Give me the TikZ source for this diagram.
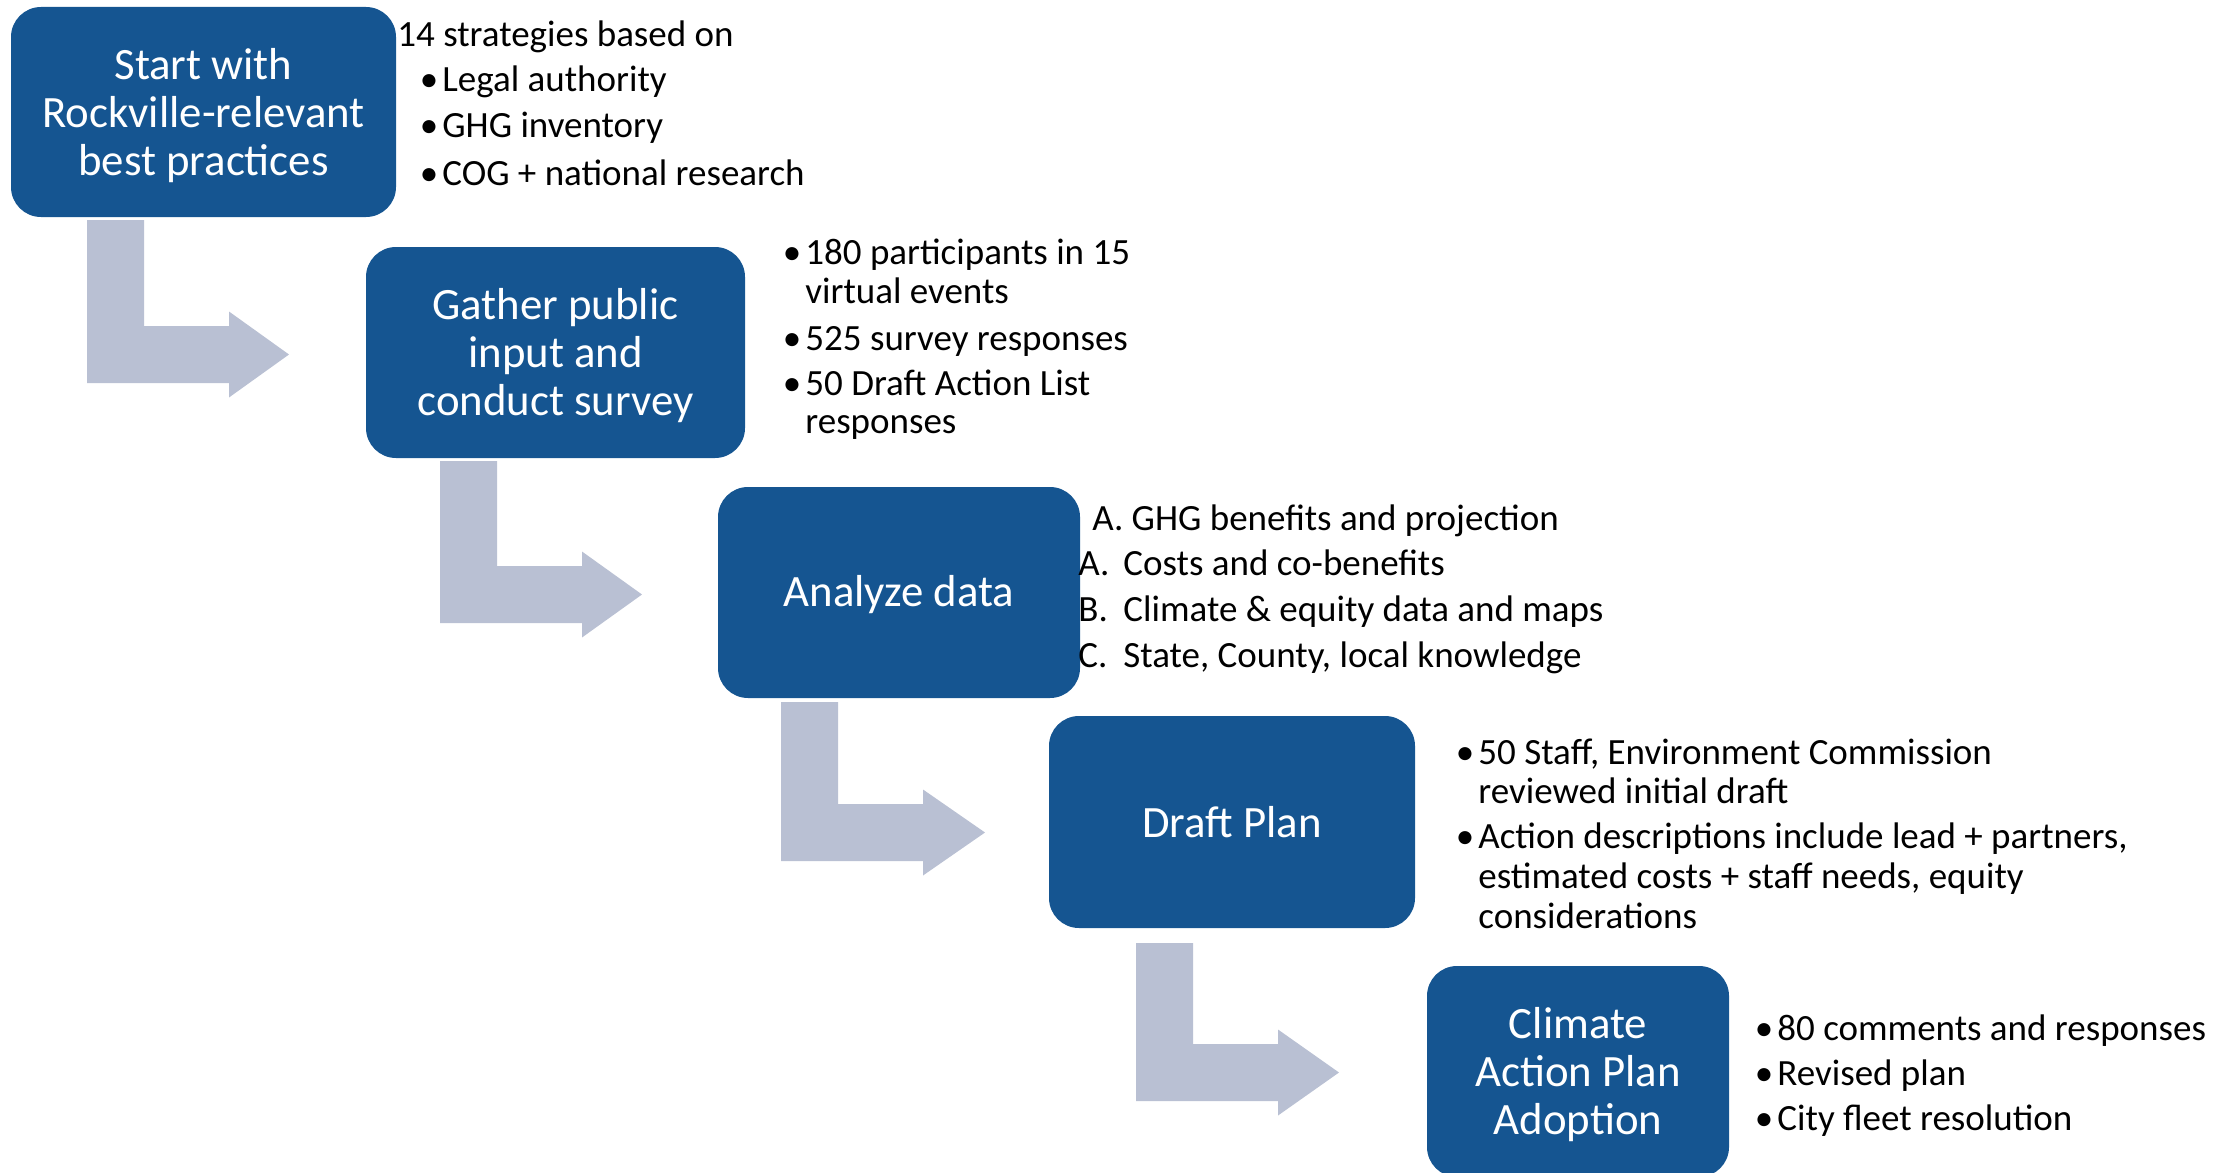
\documentclass[tikz,border=0pt]{standalone}
\usepackage{fontspec}
\setmainfont{Carlito}
\definecolor{boxblue}{RGB}{21,85,145}
\definecolor{arrowgray}{RGB}{185,192,211}
\tikzset{
  stepbox/.style={fill=boxblue, rounded corners=15pt, inner sep=0pt},
  steptext/.style={text=white, align=center, font=\fontsize{22.4}{24}\selectfont, inner sep=0pt},
  annot/.style={anchor=base west, inner sep=0pt, font=\fontsize{18.5}{20}\selectfont, text=black},
  bentarrow/.style={fill=arrowgray, draw=none},
}
\newcommand\blt{\llap{\textbullet\kern2pt}}
% #1 stem left, #2 stem top, #3 bar top, #4 head base x, #5 tip x
\newcommand\BentArr[5]{%
  \fill[bentarrow] (#1,#2) -- ({#1+57},#2) -- ({#1+57},#3) -- (#4,#3)
    -- (#4,{#3+28.5-43}) -- (#5,{#3+28.5}) -- (#4,{#3+28.5+43})
    -- (#4,{#3+57}) -- (#1,{#3+57}) -- cycle;}
\begin{document}
\begin{tikzpicture}[x=0.5pt,y=-0.5pt]
\useasboundingbox (0,0) rectangle (2236,1172);

% bent arrows
\BentArr{87}{220}{326}{229}{289}
\BentArr{440}{461}{566}{582}{642}
\BentArr{781}{702}{804}{923}{985}
\BentArr{1136}{943}{1044}{1278}{1339}

% step boxes
\node[stepbox, minimum width=192.5pt, minimum height=105pt] (b1) at (203.5,112) {};
\node[stepbox, minimum width=189.5pt, minimum height=105.5pt] (b2) at (555.5,352.5) {};
\node[stepbox, minimum width=181pt, minimum height=105.5pt] (b3) at (899,592.5) {};
\node[stepbox, minimum width=183pt, minimum height=106pt] (b4) at (1232,822) {};
\node[stepbox, minimum width=151pt, minimum height=105.5pt] (b5) at (1578,1071.5) {};

\node[steptext] (t1) at ([yshift=-2pt]b1.center) {Start with\\Rockville-relevant\\best practices};
\node[steptext] (t2) at ([yshift=-1.5pt]b2.center) {Gather public\\input and\\conduct survey};
\node[steptext] (t3) at ([yshift=-1pt]b3.center) {Analyze data};
\node[steptext] (t4) at (b4.center) {Draft Plan};
\node[steptext] (t5) at ([yshift=-1.5pt]b5.center) {Climate\\Action Plan\\Adoption};

% annotations box 1
\node[annot] (a1a) at (397,47) {14 strategies based on};
\node[annot] (a1b) at (442,92) {\blt Legal authority};
\node[annot] (a1c) at (442,138) {\blt GHG inventory};
\node[annot] (a1d) at (442,185) {\blt COG + national research};

% annotations box 2
\node[annot] (a2a) at (805,264) {\blt 180 participants in 15};
\node[annot] (a2b) at (805,303) {virtual events};
\node[annot] (a2c) at (805,350) {\blt 525 survey responses};
\node[annot] (a2d) at (805,395) {\blt 50 Draft Action List};
\node[annot] (a2e) at (805,433) {responses};

% annotations box 3
\node[annot] (a3a) at (1092,530) {A. GHG benefits and projection};
\node[annot] (a3b) at (1078,575) {\makebox[22.5pt][l]{A.}Costs and co-benefits};
\node[annot] (a3c) at (1078,621) {\makebox[22.5pt][l]{B.}Climate \& equity data and maps};
\node[annot] (a3d) at (1078,667) {\makebox[22.5pt][l]{C.}State, County, local knowledge};

% annotations box 4
\node[annot] (a4a) at (1478,764) {\blt 50 Staff, Environment Commission};
\node[annot] (a4b) at (1478,803) {reviewed initial draft};
\node[annot] (a4c) at (1478,848) {\blt Action descriptions include lead + partners,};
\node[annot] (a4d) at (1478,888) {estimated costs + staff needs, equity};
\node[annot] (a4e) at (1478,928) {considerations};

% annotations box 5
\node[annot] (a5a) at (1777,1040) {\blt 80 comments and responses};
\node[annot] (a5b) at (1777,1085) {\blt Revised plan};
\node[annot] (a5c) at (1777,1130) {\blt City fleet resolution};
\end{tikzpicture}
\end{document}
